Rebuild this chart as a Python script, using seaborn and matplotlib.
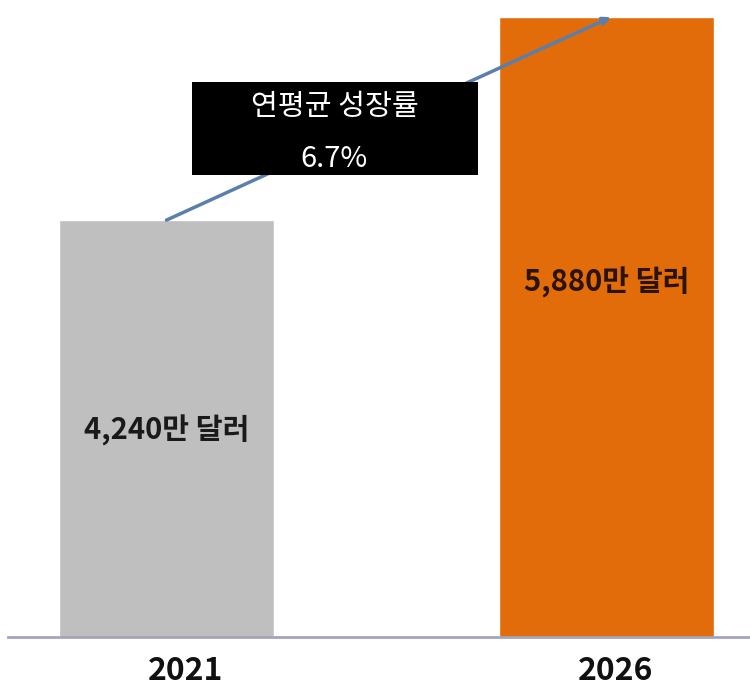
import matplotlib
matplotlib.use("Agg")
import matplotlib.pyplot as plt
from matplotlib.patches import Rectangle
import seaborn as sns
import pandas as pd

years = ["2021", "2026"]
values = [4240, 5880]
bar_labels = ["4,240만 달러", "5,880만 달러"]
bar_colors = ["#bfbfbf", "#e36c0a"]
cagr_title = "연평균 성장률"
cagr_value = "6.7%"

df = pd.DataFrame({"year": years, "value": values})

sns.set_theme(style="white")
plt.rcParams["font.family"] = ["Noto Sans CJK KR", "DejaVu Sans"]

fig = plt.figure(figsize=(7.5, 6.99), dpi=100)
ax = fig.add_axes([8 / 750, 62 / 699, 742 / 750, 637 / 699])

sns.barplot(data=df, x="year", y="value", hue="year", palette=bar_colors,
            width=0.49, legend=False, saturation=1, ax=ax, zorder=2)

ax.set_ylim(873, 6018)
ax.set_xlim(-0.36, 1.326)
ax.set(xlabel="", ylabel="")
ax.set_yticks([])
# year labels sit a little right of the bar centres
ax.set_xticks([0.043, 1.02], years)
ax.tick_params(axis="x", length=0, pad=13)
for lbl in ax.get_xticklabels():
    lbl.set_fontsize(23)
    lbl.set_fontweight("bold")
    lbl.set_color("#111111")

for s in ["top", "left", "right"]:
    ax.spines[s].set_visible(False)
ax.spines["bottom"].set_color("#a3a6ba")
ax.spines["bottom"].set_linewidth(2)

# growth line between bar tops
ax.annotate("", xy=(1.01, values[1]), xytext=(0, values[0]),
            arrowprops=dict(arrowstyle="-|>", color="#5b7fab", lw=2.5,
                            mutation_scale=11, shrinkA=0, shrinkB=0),
            zorder=3)

# labels inside bars
label_y = [0.325, 0.557]
for i, txt in enumerate(bar_labels):
    ax.text(i, label_y[i], txt, transform=ax.get_xaxis_transform(),
            ha="center", va="center", fontsize=21, fontweight="bold",
            color="#1a1a1a" if i == 0 else "#2a1300", zorder=4)

# black CAGR box
ax.add_patch(Rectangle((0.248, 0.725), 0.385, 0.146, transform=ax.transAxes,
                       facecolor="black", edgecolor="none", zorder=5))
ax.text(0.44, 0.832, cagr_title, transform=ax.transAxes, ha="center",
        va="center", fontsize=21, fontweight="medium", color="white", zorder=6)
ax.text(0.44, 0.751, cagr_value, transform=ax.transAxes, ha="center",
        va="center", fontsize=21, fontweight="medium", color="white", zorder=6)

fig.savefig("out.png", dpi=100)
